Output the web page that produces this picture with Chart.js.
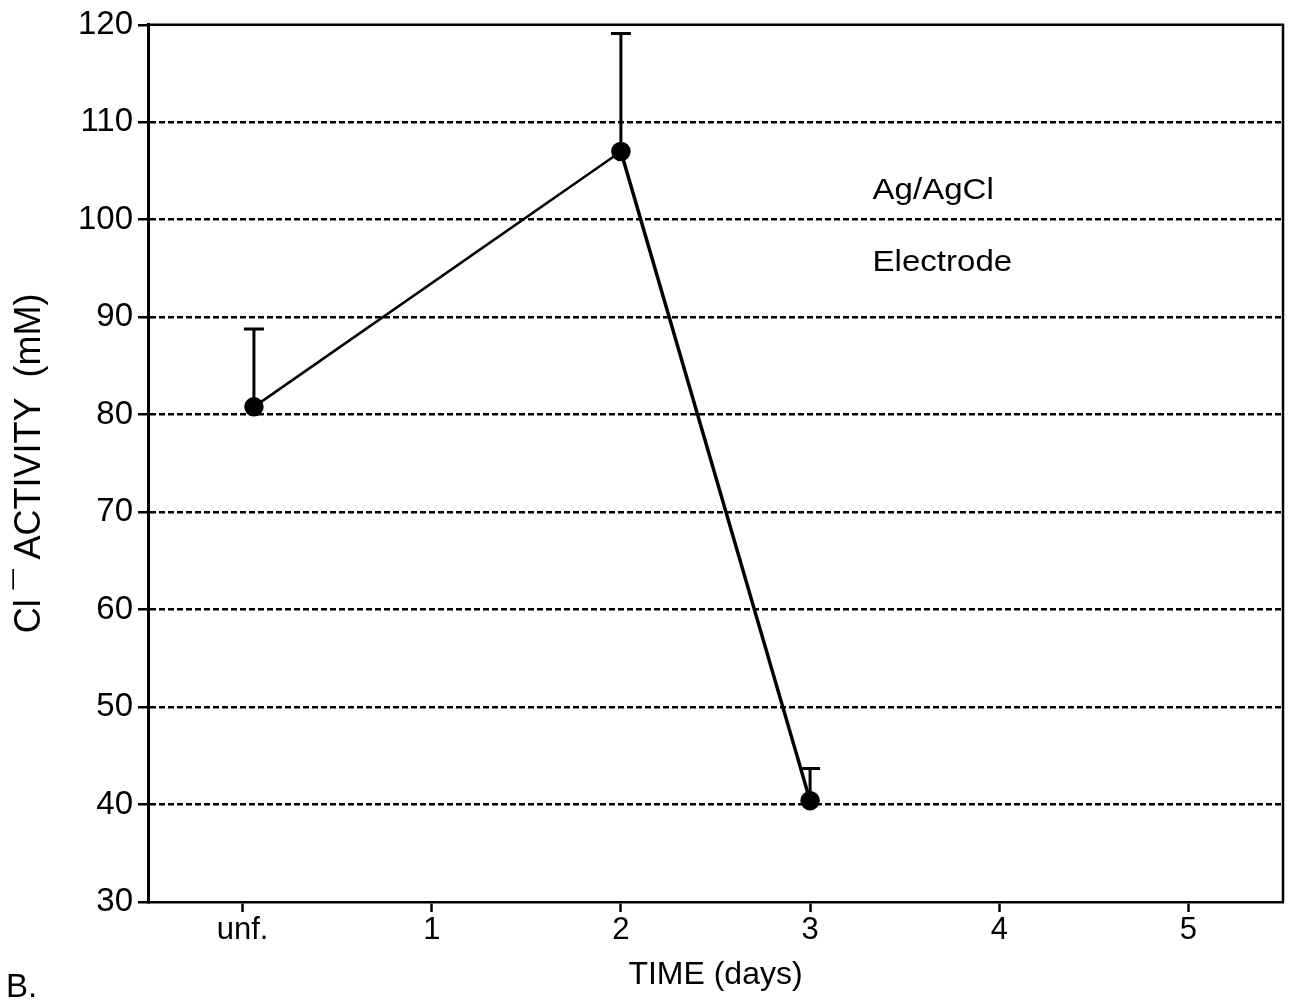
<!DOCTYPE html>
<html>
<head>
<meta charset="utf-8">
<script src="https://cdn.jsdelivr.net/npm/chart.js@4/dist/chart.umd.min.js"></script>
<style>
  html, body { margin: 0; padding: 0; background: #fff; }
  #wrap { width: 1294px; height: 1001px; position: relative; }
</style>
</head>
<body>
<div id="wrap"><canvas id="c" width="1294" height="1001"></canvas></div>
<script>
// ---- data ----
const xTickValues = [0, 1, 2, 3, 4, 5];
const xTickLabels = ['unf.', '1', '2', '3', '4', '5'];
const pointX = [0.06, 2, 3];
const meanValues = [80.8, 107, 40.4];
const errorUpper = [88.8, 119.1, 43.7];
const yTicks = [30, 40, 50, 60, 70, 80, 90, 100, 110, 120];
const xTitle = 'TIME (days)';
const yTitle = 'Cl \u00AF ACTIVITY  (mM)';
const annotations = [
  { x: 3.33, y: 102.1, text: 'Ag/AgCl' },
  { x: 3.33, y: 94.7, text: 'Electrode' }
];
const panelLabel = 'B.';

const FONT = '"Liberation Sans", Arial, Helvetica, sans-serif';

const points = pointX.map((x, i) => ({ x: x, y: meanValues[i] }));

const errorBars = {
  id: 'errorBars',
  beforeDatasetsDraw(chart) {
    const { ctx, scales: { x, y } } = chart;
    ctx.save();
    ctx.strokeStyle = '#000';
    ctx.lineWidth = 3;
    pointX.forEach((px, i) => {
      const cx = x.getPixelForValue(px);
      const y0 = y.getPixelForValue(meanValues[i]);
      const y1 = y.getPixelForValue(errorUpper[i]);
      ctx.beginPath();
      ctx.moveTo(cx, y0);
      ctx.lineTo(cx, y1);
      ctx.moveTo(cx - 10, y1);
      ctx.lineTo(cx + 10, y1);
      ctx.stroke();
    });
    ctx.restore();
  }
};

const frame = {
  id: 'frame',
  afterDraw(chart) {
    const { ctx, chartArea: a, scales: { x, y } } = chart;
    ctx.save();
    ctx.strokeStyle = '#000';
    ctx.lineWidth = 2.5;
    ctx.beginPath();
    ctx.moveTo(a.left, a.top);
    ctx.lineTo(a.right, a.top);
    ctx.lineTo(a.right, a.bottom);
    ctx.stroke();
    ctx.fillStyle = '#000';
    ctx.font = '29px ' + FONT;
    ctx.textBaseline = 'alphabetic';
    ctx.textAlign = 'left';
    annotations.forEach(an => {
      const px = x.getPixelForValue(an.x);
      const py = y.getPixelForValue(an.y);
      ctx.save();
      ctx.translate(px, py);
      ctx.scale(1.14, 1);
      ctx.fillText(an.text, 0, 0);
      ctx.restore();
    });
    ctx.font = '33px ' + FONT;
    ctx.fillText(panelLabel, 6, 997);
    ctx.restore();
  }
};

new Chart(document.getElementById('c'), {
  type: 'line',
  data: {
    datasets: [{
      data: points,
      borderColor: '#000',
      backgroundColor: '#000',
      borderWidth: 2.5,
      segment: { borderWidth: c => c.p0DataIndex === 1 ? 3.5 : 2.5 },
      pointRadius: 8.5,
      pointHoverRadius: 8.5,
      pointBackgroundColor: '#000',
      pointBorderColor: '#000',
      tension: 0,
      fill: false
    }]
  },
  options: {
    responsive: false,
    animation: false,
    events: [],
    layout: { padding: { left: 0, top: 22, right: 11, bottom: 0 } },
    plugins: { legend: { display: false }, tooltip: { enabled: false }, title: { display: false } },
    scales: {
      x: {
        type: 'linear',
        position: 'bottom',
        min: -0.5,
        max: 5.5,
        afterBuildTicks: s => { s.ticks = xTickValues.map(v => ({ value: v })); },
        afterFit: s => { s.height = 99; },
        ticks: {
          color: '#000',
          font: { family: FONT, size: 31 },
          padding: 0,
          maxRotation: 0,
          autoSkip: false,
          callback: (v) => { const i = xTickValues.indexOf(v); return i >= 0 ? xTickLabels[i] : ''; }
        },
        grid: {
          drawOnChartArea: false,
          drawTicks: true,
          tickLength: 10,
          tickColor: '#000',
          tickWidth: 2.5
        },
        border: { color: '#000', width: 2.5 },
        title: {
          display: true,
          text: xTitle,
          color: '#000',
          font: { family: FONT, size: 32 },
          padding: { top: 0, bottom: 7 }
        }
      },
      y: {
        type: 'linear',
        min: 30,
        max: 120,
        afterBuildTicks: s => { s.ticks = yTicks.map(v => ({ value: v })); },
        afterFit: s => { s.width = 148; },
        ticks: {
          color: '#000',
          font: { family: FONT, size: 33 },
          padding: 5,
          stepSize: 10
        },
        grid: {
          color: ctx => (ctx.tick && (ctx.tick.value === 30 || ctx.tick.value === 120)) ? 'rgba(0,0,0,0)' : '#000',
          lineWidth: 2.5,
          tickBorderDash: [],
          drawTicks: true,
          tickLength: 10,
          tickColor: '#000',
          tickWidth: 2.5
        },
        border: { color: '#000', width: 3, dash: [6, 3] },
        title: {
          display: true,
          text: yTitle,
          color: '#000',
          font: { family: FONT, size: 36 },
          padding: { top: 8, bottom: 0 }
        }
      }
    }
  },
  plugins: [errorBars, frame]
});
</script>
</body>
</html>
